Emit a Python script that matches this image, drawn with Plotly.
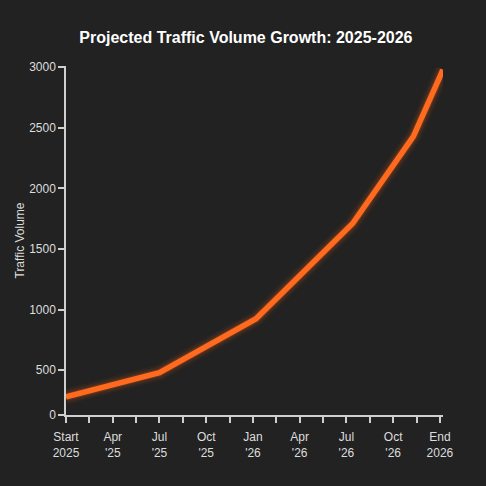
import plotly.graph_objects as go

# months since start of 2025
months = [0, 6, 12.2, 18.4, 22.3, 24.2]
volume = [280, 480, 925, 1710, 2430, 2980]

x_tick_vals = [0, 1.5, 3, 4.5, 6, 7.5, 9, 10.5, 12, 13.5, 15, 16.5, 18, 19.5, 21, 22.5, 24]
x_tick_text = [
    "Start<br>2025", "", "Apr<br>'25", "", "Jul<br>'25", "", "Oct<br>'25", "",
    "Jan<br>'26", "", "Apr<br>'26", "", "Jul<br>'26", "", "Oct<br>'26", "", "End<br>2026",
]
# the bottom of the value axis is clamped and labelled 0 in the original
y_tick_vals = [130, 500, 1000, 1500, 2000, 2500, 3000]
y_tick_text = ["0", "500", "1000", "1500", "2000", "2500", "3000"]

bg = "#222222"
axis_col = "#cfcfcf"
orange = "#ff6a1e"

fig = go.Figure()

# soft glow under the main line
for width, alpha in [(16, 0.05), (12, 0.09), (8, 0.18)]:
    fig.add_trace(
        go.Scatter(
            x=months,
            y=volume,
            mode="lines",
            line=dict(color=f"rgba(255,100,20,{alpha})", width=width),
            hoverinfo="skip",
            showlegend=False,
        )
    )

fig.add_trace(
    go.Scatter(
        x=months,
        y=volume,
        mode="lines",
        line=dict(color=orange, width=5.5),
        name="Traffic Volume",
        showlegend=False,
    )
)

fig.update_layout(
    width=486,
    height=486,
    paper_bgcolor=bg,
    plot_bgcolor=bg,
    margin=dict(l=66, r=43, t=66, b=71),
    font=dict(family="Liberation Sans, Arial, sans-serif", color="#dddddd", size=12),
    title=dict(
        text="<b>Projected Traffic Volume Growth: 2025-2026</b>",
        x=0.506,
        xanchor="center",
        y=0.924,
        yanchor="middle",
        font=dict(size=16, color="white"),
    ),
    xaxis=dict(
        range=[0, 24.2],
        tickmode="array",
        tickvals=x_tick_vals,
        ticktext=x_tick_text,
        tickangle=0,
        showgrid=False,
        zeroline=False,
        showline=True,
        linecolor=axis_col,
        linewidth=1.5,
        ticks="outside",
        ticklen=6,
        tickwidth=1.5,
        tickcolor=axis_col,
        ticklabelstandoff=4,
        tickfont=dict(size=12, color="#dddddd"),
    ),
    yaxis=dict(
        range=[130, 3010],
        tickmode="array",
        tickvals=y_tick_vals,
        ticktext=y_tick_text,
        showgrid=False,
        zeroline=False,
        showline=True,
        linecolor=axis_col,
        linewidth=1.5,
        ticks="outside",
        ticklen=6,
        tickwidth=1.5,
        tickcolor=axis_col,
        tickfont=dict(size=12, color="#dddddd"),
        title=dict(text="Traffic Volume", font=dict(size=12, color="#dddddd"), standoff=2),
    ),
)

# drop the default page margin so the chart sits at the window's corner
fig.write_html(
    "out.html",
    config={"displayModeBar": False},
    post_script="document.body.style.margin='0';document.body.style.background='#222222';",
)
